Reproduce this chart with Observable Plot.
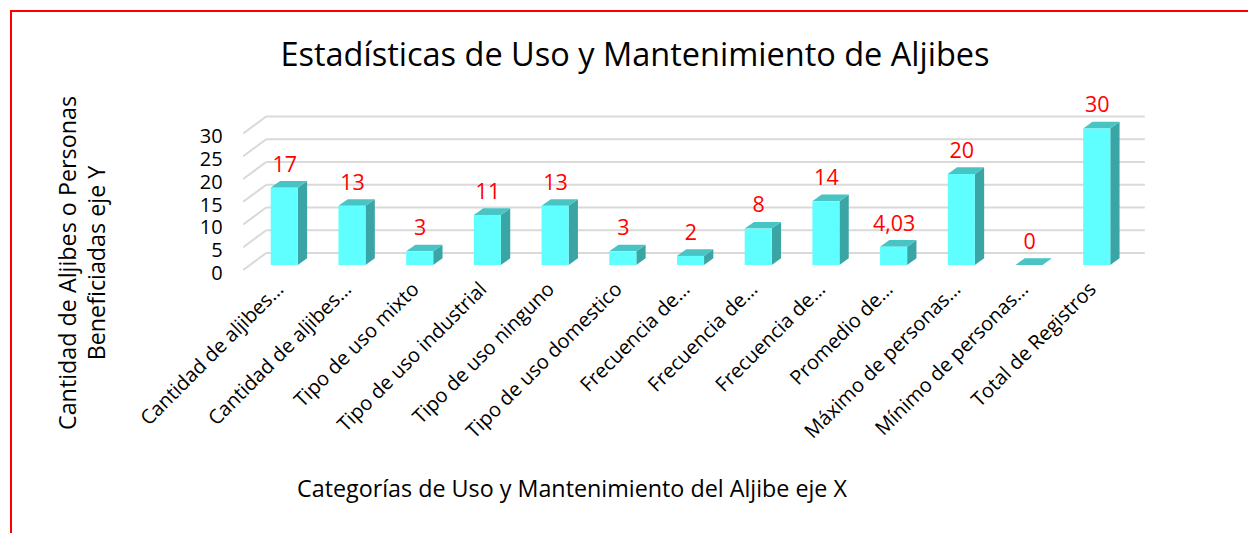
<!DOCTYPE html>
<html>
<head>
<meta charset="utf-8">
<script src="https://cdn.jsdelivr.net/npm/d3@7"></script>
<script src="https://cdn.jsdelivr.net/npm/@observablehq/plot@0.6"></script>
<style>
  html, body { margin: 0; padding: 0; background: #ffffff; }
  #wrap { position: relative; width: 1248px; height: 533px; overflow: hidden; font-family: "Open Sans", sans-serif; color: #000; }
  #chart { position: absolute; left: 0; top: 0; }
  #frame { position: absolute; left: 10px; top: 10px; width: 1400px; height: 700px; border-left: 2px solid #ff0000; border-top: 2px solid #ff0000; box-sizing: border-box; }
  #title { position: absolute; left: 0; width: 1270px; top: 34px; text-align: center; font-size: 32.5px; line-height: 40px; white-space: nowrap; }
  #ytitle { position: absolute; left: -118px; top: 234px; width: 400px; height: 58px; line-height: 29px; font-size: 23.3px; text-align: center; transform: rotate(-90deg); transform-origin: 200px 29px; white-space: nowrap; }
  #xtitle { position: absolute; left: 0; width: 1144px; top: 475px; text-align: center; font-size: 23.3px; line-height: 26px; white-space: nowrap; }
</style>
</head>
<body>
<div id="wrap">
  <div id="chart"></div>
  <div id="frame"></div>
  <div id="title">Estadísticas de Uso y Mantenimiento de Aljibes</div>
  <div id="ytitle">Cantidad de Aljibes o Personas<br>Beneficiadas eje Y</div>
  <div id="xtitle">Categorías de Uso y Mantenimiento del Aljibe eje X</div>
</div>
<script>
// ---- data ----
const categories = [
  "Cantidad de aljibes…",
  "Cantidad de aljibes…",
  "Tipo de uso mixto",
  "Tipo de uso industrial",
  "Tipo de uso ninguno",
  "Tipo de uso domestico",
  "Frecuencia de…",
  "Frecuencia de…",
  "Frecuencia de…",
  "Promedio de…",
  "Máximo de personas…",
  "Mínimo de personas…",
  "Total de Registros"
];
const values = [17, 13, 3, 11, 13, 3, 2, 8, 14, 4.03, 20, 0, 30];
const yTicks = [0, 5, 10, 15, 20, 25, 30];

const rows = categories.map((label, i) => ({
  key: i,
  label,
  value: values[i],
  text: String(values[i]).replace(".", ",")
}));

// ---- 3D helpers (drawn through Plot's scales) ----
const DX = 9.3, DY = -6.7;
const GRID = "#D9D9D9";

function grid(index, scales) {
  const {x, y} = scales;
  const [r0, r1] = x.range();
  const g = d3.create("svg:g").attr("stroke", GRID).attr("stroke-width", 2).attr("fill", "none");
  for (const t of yTicks) {
    const yy = y(t);
    g.append("line").attr("x1", r0 - 14).attr("y1", yy + 5).attr("x2", r0 + 9).attr("y2", yy - 12);
    g.append("line").attr("x1", r0 + 9).attr("y1", yy - 12).attr("x2", r1 + 21).attr("y2", yy - 12);
  }
  return g.node();
}

function prisms(index, scales) {
  const {x, y} = scales;
  const bw = x.bandwidth();
  const g = d3.create("svg:g");
  for (const r of rows) {
    const x0 = x(r.key), x1 = x0 + bw, yt = y(r.value), yb = y(0);
    if (yb - yt > 0.01) {
      g.append("path")
        .attr("d", `M${x1},${yt}L${x1 + DX},${yt + DY}L${x1 + DX},${yb + DY}L${x1},${yb}Z`)
        .attr("fill", "#3BA5A5");
    }
    g.append("path")
      .attr("d", `M${x0},${yt}L${x0 + DX},${yt + DY}L${x1 + DX},${yt + DY}L${x1},${yt}Z`)
      .attr("fill", "#48C4C4");
  }
  return g.node();
}

const chart = Plot.plot({
  width: 1248,
  height: 533,
  marginLeft: 257.2,
  marginRight: 124.2,
  marginTop: 128.5,
  marginBottom: 268,
  style: { background: "transparent", fontFamily: "'Open Sans', sans-serif", overflow: "visible" },
  x: { type: "band", domain: rows.map(d => d.key), paddingInner: 0.6, paddingOuter: 0.2, align: 0.5, round: false, axis: null },
  y: { domain: [0, 30], axis: null },
  marks: [
    grid,
    prisms,
    Plot.barY(rows, { x: "key", y: "value", fill: "#5FFFFF" }),
    Plot.text(rows, { x: "key", y: "value", text: "text", dy: -23.5, fill: "#FF0000", fontSize: 21.5 }),
    Plot.text(yTicks, { y: d => d, text: d => String(d), frameAnchor: "left", textAnchor: "end", dx: -35, dy: 8, fontSize: 20, fill: "#000" }),
    Plot.text(rows, { x: "key", text: "label", frameAnchor: "bottom", rotate: -45, textAnchor: "end", dx: 0, dy: 25, fontSize: 20, fill: "#000" })
  ]
});
document.getElementById("chart").appendChild(chart);
</script>
</body>
</html>
